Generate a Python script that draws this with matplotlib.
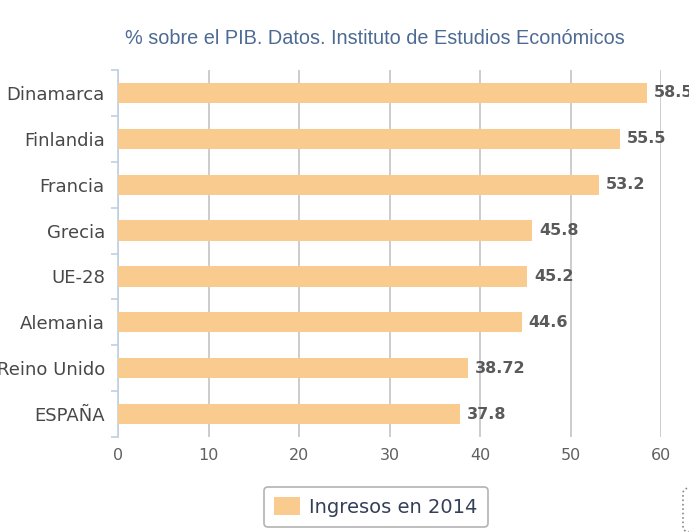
import matplotlib.pyplot as plt
from matplotlib.patches import FancyBboxPatch

# datos
paises = ['Dinamarca', 'Finlandia', 'Francia', 'Grecia', 'UE-28',
          'Alemania', 'Reino Unido', 'ESPAÑA']
ingresos = [58.5, 55.5, 53.2, 45.8, 45.2, 44.6, 38.72, 37.8]
etiquetas = ['58.5', '55.5', '53.2', '45.8', '45.2', '44.6', '38.72', '37.8']
ticks_x = [0, 10, 20, 30, 40, 50, 60]
subtitulo = '% sobre el PIB. Datos. Instituto de Estudios Económicos'
serie = 'Ingresos en 2014'

W, H = 689, 532
fig = plt.figure(figsize=(W / 100, H / 100), dpi=100)
ax = fig.add_axes([118 / W, 1 - 437 / H, (661 - 118) / W, (437 - 70) / H])

y = list(range(len(paises)))
barras = ax.barh(y, ingresos, height=0.44, color='#f9cb8e', label=serie, zorder=3)

ax.set_xlim(0, 60)
ax.set_ylim(len(paises) - 0.5, -0.5)
ax.set_xticks(ticks_x)
ax.set_xticklabels([str(t) for t in ticks_x], fontsize=11.5, color='#606060')
ax.set_yticks(y)
ax.set_yticklabels(paises, fontsize=13, color='#484848')

# rejilla vertical
ax.grid(axis='x', color='#c8c8c8', linewidth=1.3, zorder=0)
ax.grid(axis='y', visible=False)
for s in ['top', 'right', 'bottom']:
    ax.spines[s].set_visible(False)
ax.spines['left'].set_color('#c0d0e0')
ax.spines['left'].set_linewidth(1.2)
ax.tick_params(axis='x', length=0, pad=8)
ax.tick_params(axis='y', which='major', length=0, pad=9.5)
ax.set_yticks([i - 0.5 for i in range(len(paises) + 1)], minor=True)
ax.tick_params(axis='y', which='minor', length=5, color='#c0d0e0', width=1.2)

# etiquetas de valor
for b, t in zip(barras, etiquetas):
    ax.text(b.get_width() + 0.75, b.get_y() + b.get_height() / 2, t,
            va='center', ha='left', fontsize=11.5, fontweight='bold',
            color='#5a5a5a', clip_on=False, zorder=4)

fig.text(375 / W, 1 - 38 / H, subtitulo, ha='center', va='center',
         fontsize=14.3, color='#4d6a94', family='Liberation Sans')

leg = ax.legend(loc='center', bbox_to_anchor=(376 / W, 1 - 507 / H),
                bbox_transform=fig.transFigure, fontsize=14, frameon=True,
                fancybox=True, handlelength=1.3, handleheight=1.0,
                borderpad=0.55, handletextpad=0.5, labelcolor='#34405a')
leg.get_frame().set_edgecolor('#a0a0a0')
leg.get_frame().set_linewidth(1.2)

# fragmento del botón a la derecha
fig.patches.append(FancyBboxPatch((683 / W, 0), 30 / W, 44 / H,
                                  boxstyle='round,pad=0,rounding_size=0.01',
                                  transform=fig.transFigure, facecolor='white',
                                  edgecolor='#888888', linewidth=1.2,
                                  linestyle=':'))

fig.savefig('out.png', dpi=100)
